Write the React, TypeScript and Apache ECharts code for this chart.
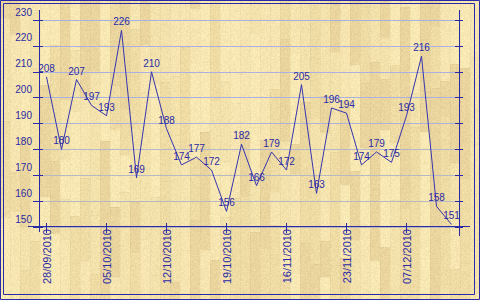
import React, { useEffect, useRef } from "react";
import * as echarts from "echarts";

const categories = [
  "28/09/2010", "29/09/2010", "30/09/2010", "01/10/2010",
  "05/10/2010", "06/10/2010", "07/10/2010", "08/10/2010",
  "12/10/2010", "13/10/2010", "14/10/2010", "15/10/2010",
  "19/10/2010", "26/10/2010", "02/11/2010", "09/11/2010",
  "16/11/2010", "17/11/2010", "18/11/2010", "19/11/2010",
  "23/11/2010", "26/11/2010", "30/11/2010", "03/12/2010",
  "07/12/2010", "09/12/2010", "10/12/2010", "14/12/2010",
];
const values = [
  208, 180, 207, 197, 193, 226, 169, 210, 188, 174, 177, 172, 156, 182,
  166, 179, 172, 205, 163, 196, 194, 174, 179, 175, 193, 216, 158, 151,
];
const yMin = 150;
const yMax = 230;
const yStep = 10;

const BLUE = "#2a2aa6";
const FONT = "Liberation Sans";
const gridColors = [
  "#b8b8bc", "#b8b8c0", "#b8b8c4", "#b4b6cc", "#acb2dc",
  "#aab0e0", "#aab0e0", "#aab0e0", "#aab0e0",
];
const woodPalette = [
  [248, 232, 180],
  [244, 226, 172],
  [239, 219, 164],
  [235, 213, 158],
  [246, 229, 176],
];

function woodTexture(w: number, h: number): string {
  const c = document.createElement("canvas");
  c.width = w;
  c.height = h;
  const ctx = c.getContext("2d");
  if (!ctx) return "";
  let s = 12345;
  const rnd = () => {
    s = (s * 1103515245 + 12345) & 0x7fffffff;
    return s / 0x7fffffff;
  };
  const img = ctx.createImageData(w, h);
  const plank = 10;
  for (let px = 0; px < w; px += plank) {
    let y = -Math.floor(rnd() * 60);
    while (y < h) {
      const len = 30 + Math.floor(rnd() * 90);
      const col = woodPalette[Math.floor(rnd() * woodPalette.length)];
      for (let yy = Math.max(0, y); yy < Math.min(h, y + len); yy++) {
        for (let xx = px; xx < Math.min(w, px + plank); xx++) {
          const n = (rnd() - 0.5) * 14;
          const edge = xx === px || yy === y ? -6 : 0;
          const i = (yy * w + xx) * 4;
          img.data[i] = col[0] + n + edge;
          img.data[i + 1] = col[1] + n + edge;
          img.data[i + 2] = col[2] + n + edge;
          img.data[i + 3] = 255;
        }
      }
      y += len;
    }
  }
  ctx.putImageData(img, 0, 0);
  return c.toDataURL();
}

export default function App() {
  const ref = useRef<HTMLDivElement>(null);
  useEffect(() => {
    document.body.style.margin = "0";
    if (!ref.current) return;
    const chart = echarts.init(ref.current, null, { renderer: "svg" });
    const yBase = {
      type: "value" as const,
      min: yMin,
      max: yMax,
      interval: yStep,
      axisLine: { show: false },
    };
    const tex = woodTexture(480, 300);
    chart.setOption({
      animation: false,
      backgroundColor: "#efdcaa",
      grid: { left: 39, right: 21, top: 20, bottom: 73 },
      xAxis: [
        {
          type: "category",
          data: categories,
          boundaryGap: true,
          axisLine: { show: false },
          axisTick: {
            show: true,
            alignWithLabel: true,
            interval: 3,
            length: 6,
            lineStyle: { color: BLUE },
          },
          axisLabel: {
            interval: 3,
            rotate: 90,
            margin: 2,
            color: BLUE,
            fontFamily: FONT,
            fontSize: 11,
          },
        },
        {
          type: "category",
          data: categories,
          position: "bottom",
          boundaryGap: true,
          axisLine: { show: false },
          axisTick: {
            show: true,
            inside: true,
            alignWithLabel: true,
            interval: 3,
            length: 4,
            lineStyle: { color: BLUE },
          },
          axisLabel: { show: false },
        },
      ],
      yAxis: [
        {
          ...yBase,
          position: "left",
          axisTick: { show: true, length: 6, lineStyle: { color: BLUE } },
          axisLabel: {
            color: BLUE,
            fontFamily: FONT,
            fontSize: 10,
            margin: 7,
            verticalAlign: "bottom",
            padding: [0, 0, 3, 0],
          },
          splitLine: {
            show: true,
            lineStyle: { color: gridColors, width: 1 },
          },
        },
        {
          ...yBase,
          position: "left",
          axisTick: { show: true, inside: true, length: 4, lineStyle: { color: BLUE } },
          axisLabel: { show: false },
          splitLine: { show: false },
        },
        {
          ...yBase,
          position: "right",
          axisTick: { show: true, length: 4, lineStyle: { color: BLUE } },
          axisLabel: { show: false },
          splitLine: { show: false },
        },
        {
          ...yBase,
          position: "right",
          axisTick: { show: true, inside: true, length: 4, lineStyle: { color: BLUE } },
          axisLabel: { show: false },
          splitLine: { show: false },
        },
      ],
      series: [
        {
          type: "line",
          data: values,
          xAxisIndex: 0,
          yAxisIndex: 0,
          symbol: "circle",
          symbolSize: 1,
          showSymbol: true,
          itemStyle: { color: "rgba(0,0,0,0)" },
          lineStyle: { color: "#3535b0", width: 1 },
          label: {
            show: true,
            position: "top",
            distance: 3,
            color: BLUE,
            fontFamily: FONT,
            fontSize: 10,
          },
        },
      ],
      graphic: [
        {
          type: "image",
          z: -100,
          silent: true,
          style: { image: tex, x: 0, y: 0, width: 480, height: 300 },
        },
        {
          type: "rect",
          shape: { x: 0.5, y: 0.5, width: 479, height: 299 },
          style: { fill: "none", stroke: BLUE, lineWidth: 1 },
          silent: true,
        },
        {
          type: "rect",
          shape: { x: 3.5, y: 3.5, width: 471, height: 291 },
          style: { fill: "none", stroke: BLUE, lineWidth: 1 },
          silent: true,
        },
        {
          type: "line",
          shape: { x1: 39.5, y1: 10, x2: 39.5, y2: 232 },
          style: { stroke: BLUE, lineWidth: 1 },
          silent: true,
        },
        {
          type: "line",
          shape: { x1: 28, y1: 226.5, x2: 470, y2: 226.5 },
          style: { stroke: BLUE, lineWidth: 1 },
          silent: true,
        },
        {
          type: "line",
          shape: { x1: 459.5, y1: 10, x2: 459.5, y2: 236 },
          style: { stroke: BLUE, lineWidth: 1 },
          silent: true,
        },
      ],
    });
    return () => chart.dispose();
  }, []);
  return <div ref={ref} style={{ width: 480, height: 300 }} />;
}
